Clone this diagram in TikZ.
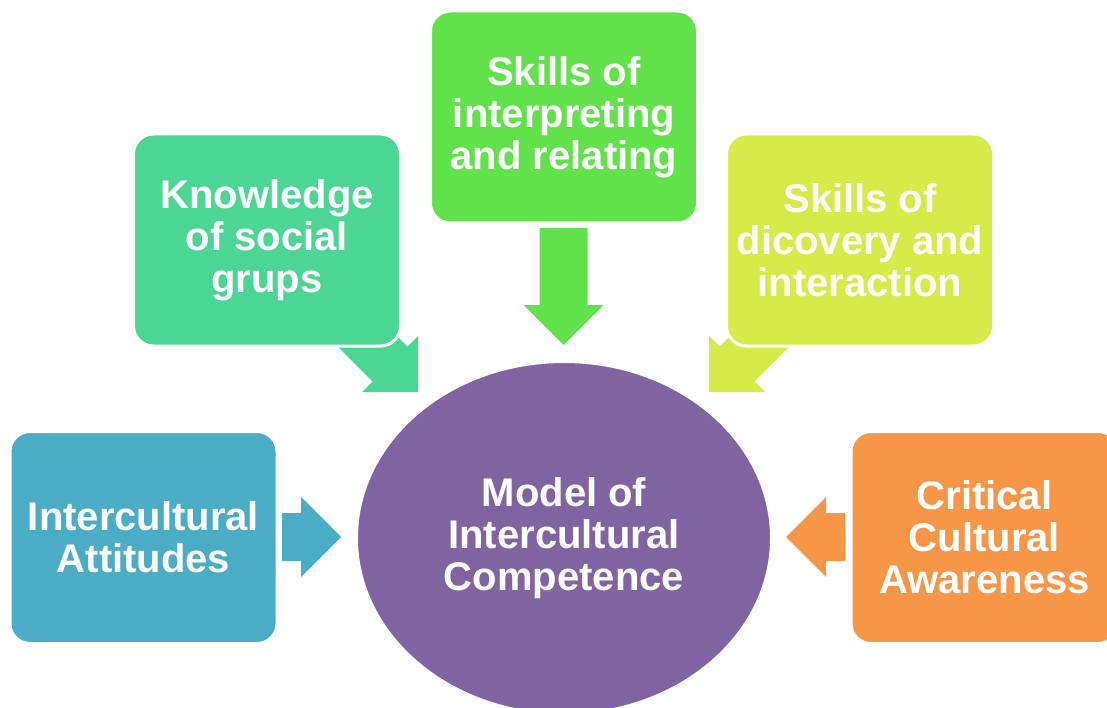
\documentclass[tikz,border=0pt]{standalone}
\usepackage{fontspec}
\setmainfont{Liberation Sans}
\usetikzlibrary{shapes.geometric}

\definecolor{attitudeBlue}{RGB}{75,172,198}
\definecolor{awareOrange}{RGB}{247,150,70}
\definecolor{modelPurple}{RGB}{128,100,162}
\definecolor{knowGreen}{RGB}{76,214,148}
\definecolor{skillGreen}{RGB}{98,226,74}
\definecolor{discYellow}{RGB}{212,235,72}

\tikzset{
  card/.style={rectangle, rounded corners=20pt, draw=white, line width=3pt,
    minimum width=267pt, minimum height=212pt, inner sep=0pt,
    text=white, align=center,
    font=\bfseries\fontsize{40}{42}\selectfont},
  hub/.style={ellipse, draw=white, line width=2pt,
    minimum width=414pt, minimum height=352pt, inner sep=0pt,
    fill=modelPurple, text=white, align=center,
    font=\bfseries\fontsize{40}{42}\selectfont},
  % block arrow with its tip at the origin, pointing along +x
  blockarrow/.pic={
    \fill (0,0) -- (-\hl,-\hw) -- (-\hl,-\sw) -- (-\len,-\sw)
          -- (-\len,\sw) -- (-\hl,\sw) -- (-\hl,\hw) -- cycle;
  },
}
\newcommand{\hl}{40}
\newcommand{\hw}{40}
\newcommand{\sw}{24}
\newcommand{\len}{59}

\begin{document}
\begin{tikzpicture}[x=1pt,y=-1pt]
\useasboundingbox (0,0) rectangle (1107,708);
\clip (0,0) rectangle (1107,708);

% arrows first, so the cards sit on top of their tails
\coordinate (tipL) at (341,537);
\coordinate (tipR) at (786,537);
\coordinate (tipD) at (563.5,345);
\coordinate (tipK) at (418,392);
\coordinate (tipS) at (709,392);

\pic[fill=attitudeBlue] at (tipL) {blockarrow};
\pic[fill=awareOrange, rotate=180] at (tipR) {blockarrow};
\renewcommand{\len}{117}
\pic[fill=skillGreen, rotate=-90] at (tipD) {blockarrow};
\renewcommand{\len}{110}\renewcommand{\hl}{39.6}\renewcommand{\hw}{39.6}\renewcommand{\sw}{24.7}
\pic[fill=knowGreen, rotate=-45] at (tipK) {blockarrow};
\pic[fill=discYellow, rotate=-135] at (tipS) {blockarrow};

% cards
\node[card, fill=attitudeBlue] (att) at (143.5,537.5) {Intercultural\\Attitudes};
\node[card, fill=knowGreen] (know) at (267,240) {Knowledge\\of social\\grups};
\node[card, fill=skillGreen] (interp) at (564,117) {Skills of\\interpreting\\and relating};
\node[card, fill=discYellow] (disc) at (860,240) {Skills of\\dicovery and\\interaction};
\node[card, fill=awareOrange] (aware) at (984.5,537.5) {Critical\\Cultural\\Awareness};

% central ellipse
\node[hub] (model) at (564,538) {Model of\\Intercultural\\Competence};
\end{tikzpicture}
\end{document}
